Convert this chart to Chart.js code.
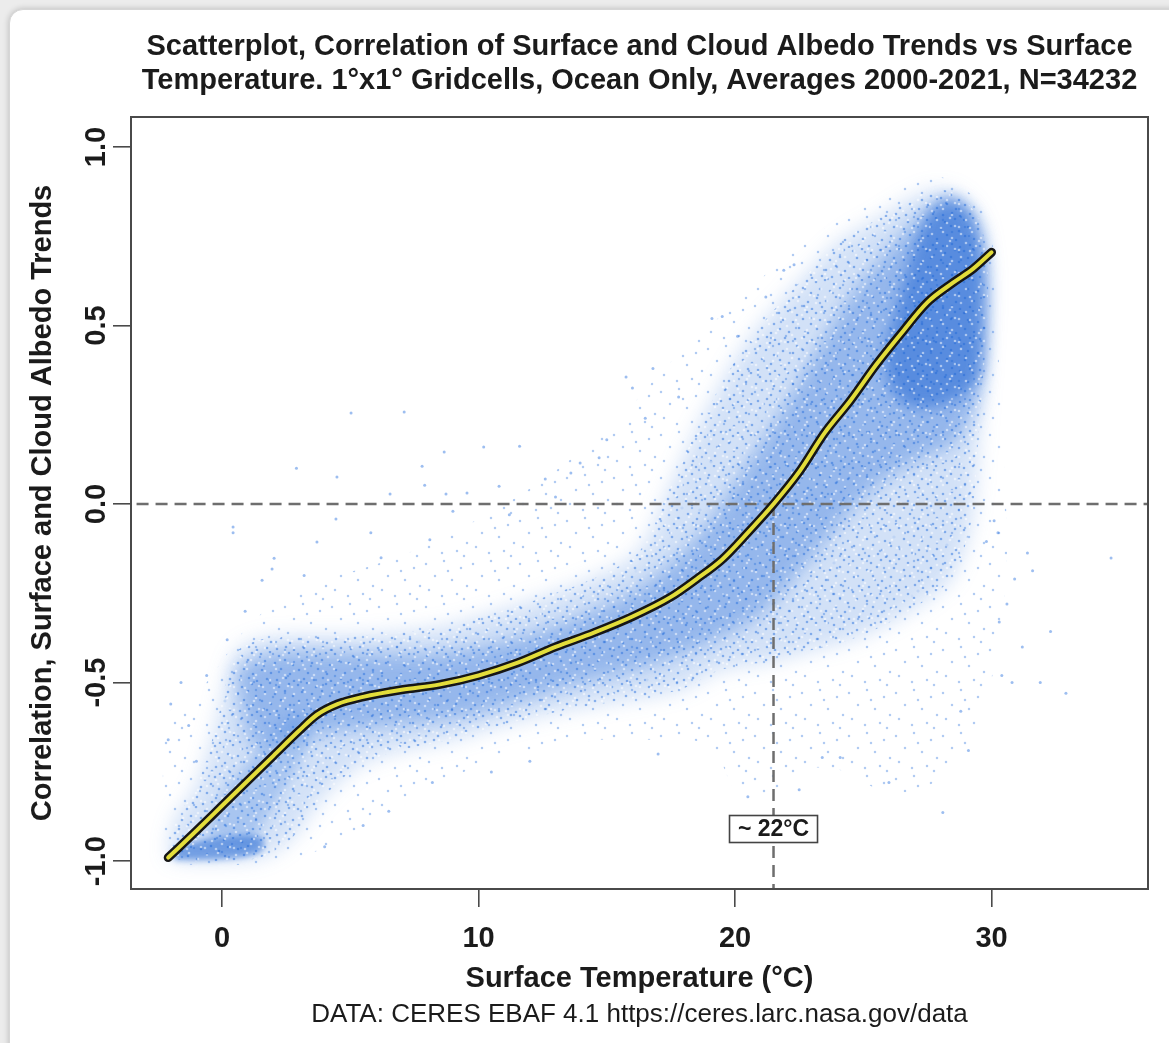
<!DOCTYPE html>
<html>
<head>
<meta charset="utf-8">
<script src="https://cdn.jsdelivr.net/npm/chart.js@4.4.1/dist/chart.umd.min.js"></script>
<style>
  html, body { margin:0; padding:0; width:1169px; height:1043px; overflow:hidden; background:#ececec; }
  #card { position:absolute; left:9px; top:9px; width:1180px; height:1060px; background:#fff;
          border:1px solid #d6d6d6; border-radius:14px; box-shadow:0 0 6px rgba(0,0,0,0.22); }
  #c { position:absolute; left:0; top:0; }
</style>
</head>
<body>
<div id="card"></div>
<canvas id="c" width="1169" height="1043"></canvas>
<script>
// ---------------- DATA ----------------
const chartTitle = ['Scatterplot, Correlation of Surface and Cloud Albedo Trends vs Surface',
                    'Temperature. 1°x1° Gridcells, Ocean Only, Averages 2000-2021, N=34232'];
const xTitle = 'Surface Temperature (°C)';
const yTitle = 'Correlation, Surface and Cloud Albedo Trends';
const caption = 'DATA: CERES EBAF 4.1 https://ceres.larc.nasa.gov/data';
const xTicks = [0, 10, 20, 30];
const yTicks = [-1, -0.5, 0, 0.5, 1];
const yTickLabels = ['-1.0', '-0.5', '0.0', '0.5', '1.0'];
const crossoverT = 21.5;
const crossoverLabel = '~ 22°C';
const crossoverLabelY = -0.91;

// smoothed fit curve
const curveX = [-2.1,-1,0,1,2,3,3.7,4.5,5.5,7,8.5,10,11.5,13,14.5,16,17.5,18.5,19.5,20.5,21.5,22.5,23.5,24.5,25.5,26.5,27.5,28.5,29.3,30];
const curveY = [-0.99,-0.915,-0.845,-0.775,-0.705,-0.635,-0.59,-0.56,-0.54,-0.52,-0.505,-0.48,-0.445,-0.40,-0.36,-0.315,-0.26,-0.21,-0.155,-0.08,0.0,0.09,0.2,0.29,0.39,0.48,0.565,0.62,0.66,0.705];

// point-cloud density regions (outlines in data units)
const cloudOuter = [[-2.22,-1.0],[-2.30,-0.72],[-2.03,-0.58],[-1.2,-0.55],[-0.3,-0.47],[0.8,-0.36],[2.0,-0.28],[3.5,-0.22],[5.5,-0.18],[7.5,-0.13],[9.5,-0.06],[11.5,0.02],[13.5,0.12],[15.5,0.24],[17.0,0.36],[18.5,0.47],[20.19,0.57],[22.14,0.71],[23.70,0.78],[25.26,0.85],[26.63,0.91],[27.80,0.92],[28.77,0.89],[29.55,0.84],[30.02,0.74],[30.14,0.57],[30.33,0.35],[30.5,0.1],[30.6,-0.15],[30.3,-0.4],[29.5,-0.6],[28.77,-0.717],[27.21,-0.80],[25.65,-0.80],[24.09,-0.745],[22.53,-0.745],[20.97,-0.83],[20.0,-0.80],[19.02,-0.675],[16.69,-0.66],[14.74,-0.66],[12.40,-0.69],[10.06,-0.73],[8.11,-0.80],[6.16,-0.87],[4.21,-0.955],[2.65,-0.997],[0.70,-1.01],[-1.25,-1.01]];
const cloudMedium = [[-2.11,-0.99],[-1.83,-0.885],[-1.05,-0.80],[-0.27,-0.633],[0.51,-0.42],[1.48,-0.38],[3.04,-0.37],[4.99,-0.37],[6.94,-0.36],[8.89,-0.34],[10.84,-0.30],[12.79,-0.255],[14.74,-0.2],[16.3,-0.13],[17.5,0.05],[18.6,0.22],[20.0,0.40],[21.0,0.50],[22.5,0.62],[24.0,0.73],[25.6,0.80],[27.0,0.86],[28.0,0.88],[28.8,0.86],[29.55,0.79],[29.86,0.63],[29.75,0.43],[29.5,0.2],[29.2,-0.05],[28.5,-0.2],[27.60,-0.26],[26.04,-0.33],[24.48,-0.38],[22.92,-0.41],[21.36,-0.44],[19.42,-0.465],[17.86,-0.52],[15.52,-0.55],[13.18,-0.58],[10.84,-0.62],[8.89,-0.66],[6.94,-0.69],[5.38,-0.73],[3.82,-0.83],[2.65,-0.94],[1.48,-0.99],[-0.08,-1.0],[-1.25,-1.0]];
const cloudCore = [[0.51,-0.465],[1.87,-0.42],[3.82,-0.415],[6.16,-0.42],[8.11,-0.42],[10.06,-0.40],[12.01,-0.365],[13.96,-0.315],[15.91,-0.25],[17.47,-0.17],[19.02,-0.05],[20.39,0.1],[21.75,0.25],[23.12,0.42],[24.48,0.58],[25.85,0.70],[27.02,0.79],[27.99,0.84],[28.97,0.83],[29.63,0.74],[29.75,0.52],[29.5,0.3],[28.5,0.17],[27.0,0.12],[25.65,0.06],[24.48,-0.02],[23.31,-0.12],[22.14,-0.22],[20.97,-0.31],[19.81,-0.36],[18.25,-0.41],[16.30,-0.46],[13.96,-0.5],[11.62,-0.55],[9.67,-0.59],[7.72,-0.61],[5.77,-0.625],[3.82,-0.645],[2.26,-0.665],[1.09,-0.68]];
const cloudDense = [[25.8,0.42],[26.4,0.58],[27.0,0.72],[27.6,0.82],[28.38,0.86],[29.16,0.82],[29.67,0.7],[29.75,0.52],[29.55,0.36],[28.77,0.3],[27.60,0.27],[26.63,0.28],[26.0,0.33]];
const cloudFoot = [[-1.95,-0.97],[-1.25,-0.95],[-0.27,-0.935],[0.70,-0.93],[1.56,-0.935],[1.56,-0.97],[0.70,-0.99],[-0.86,-0.997],[-1.83,-0.997]];
const cloudDiagonal = [[-0.66,-0.93],[0.12,-0.80],[1.09,-0.717],[2.07,-0.633],[3.04,-0.59],[3.43,-0.66],[2.65,-0.77],[1.68,-0.885],[1.09,-0.955]];

// isolated gridcells outside the main cloud
const outliers = [[5.03,0.255],[7.1,0.258],[2.9,0.1],[4.48,0.076],[8.66,0.146],[7.8,0.106],[10.2,0.16],[11.6,0.162],[7.9,0.053],[6.55,0.028],[8.73,0.028],[9.55,0.031],[0.43,-0.064],[0.43,-0.08],[4.44,-0.042],[3.7,-0.106],[2.03,-0.152],[1.95,-0.182],[1.56,-0.213],
  [15.75,0.356],[16.0,0.325],[16.8,0.38],[19.1,0.52],[19.5,0.525],[20.1,0.47],[21.2,0.58],[21.9,0.655],[22.3,0.67],[13.96,0.115],[14.7,0.13],[13.6,0.087],
  [34.66,-0.151],[31.4,-0.137],[31.6,-0.187],[30.9,-0.21],[32.3,-0.357],[31.2,-0.4],[31.9,-0.5],[32.9,-0.53],[30.4,-0.48],[30.8,-0.5],[29.1,-0.69],[28.1,-0.864],[30.1,-0.047],[30.25,-0.08],[29.8,-0.105],[30.6,-0.28],[30.3,-0.33],[28.8,-0.58],[23.4,-0.71],[24.1,-0.71],
  [-2.0,-0.56],[-1.6,-0.5],[-2.1,-0.66],[-1.3,-0.62],[-0.6,-0.48],[0.2,-0.38],[0.9,-0.3],[-1.0,-0.72],
  [8.2,-0.78],[6.5,-0.86],[5.5,-0.9],[12.0,-0.72],[17.0,-0.7],[20.5,-0.82],[22.5,-0.8],[26,-0.78],[10.5,-0.75],[4.0,-0.96],
  [5.8,-0.08],[9.0,-0.02],[10.8,0.05],[12.6,0.07],[6.2,-0.15],[3.2,-0.2],[8.1,-0.1],[11.2,-0.03],[13.0,0.02],[15.0,0.18],[16.5,0.24],[17.8,0.3]];

// ---------------- STYLE ----------------
const FONT = '"Liberation Sans", Arial, Helvetica, sans-serif';
const TEXT = '#1b1b1b';

function makePattern(w, h, dotColor, dots, r) {
  const t = document.createElement('canvas');
  t.width = w; t.height = h;
  const g = t.getContext('2d');
  g.fillStyle = dotColor;
  dots.forEach(d => { g.beginPath(); g.arc(d[0], d[1], r, 0, Math.PI * 2); g.fill(); });
  return g.createPattern(t, 'repeat');
}
// fixed dot layouts for the speckle texture
const tileSparse = [[3,5],[21,2],[38,9],[12,17],[29,21],[44,27],[6,31],[19,37],[34,35],[25,12],[41,40]];
const tileMed = [[2,3],[11,1],[20,5],[30,2],[6,10],[16,12],[26,9],[34,14],[3,19],[12,22],[22,18],[31,23],[8,28],[18,29],[27,27],[35,30]];
const tileWhite = [[4,4],[15,2],[24,8],[9,13],[19,16],[2,20],[27,19],[13,21],[22,11]];

const toPts = arr => arr.map(p => ({x: p[0], y: p[1]}));

const canvas = document.getElementById('c');
const ctx = canvas.getContext('2d');

const pOuter  = makePattern(47, 43, 'rgba(70,130,225,0.42)', tileSparse, 1.25);
const pMedium = makePattern(37, 31, 'rgba(45,115,222,0.5)', tileMed, 1.3);
const pWhite  = makePattern(29, 23, 'rgba(255,255,255,0.5)', tileWhite, 1.3);

function blob(arr, fillStyle, order, blurPx) {
  return { type: 'line', data: toPts(arr), fill: 'shape', backgroundColor: fillStyle, blur: blurPx || 0,
           borderWidth: 0, borderColor: 'rgba(0,0,0,0)', pointRadius: 0, tension: 0.3, order: order };
}

// softens the edges of the density fills (filter is set just before a dataset's fill is drawn)
const softFills = {
  id: 'softFills',
  beforeDatasetsDraw(chart) {
    const metas = chart.getSortedVisibleDatasetMetas();
    const m = metas[metas.length - 1];
    const b = chart.data.datasets[m.index].blur;
    chart.ctx.filter = b ? 'blur(' + b + 'px)' : 'none';
  },
  afterDatasetDraw(chart, args) {
    const metas = chart.getSortedVisibleDatasetMetas();
    const i = metas.indexOf(args.meta);
    const next = metas[i - 1];
    const b = next ? chart.data.datasets[next.index].blur : 0;
    chart.ctx.filter = b ? 'blur(' + b + 'px)' : 'none';
  },
  afterDatasetsDraw(chart) { chart.ctx.filter = 'none'; }
};

const frameAndText = {
  id: 'frameAndText',
  afterDraw(chart) {
    const c = chart.ctx, a = chart.chartArea;
    const sx = chart.scales.x, sy = chart.scales.y;
    c.save();
    c.filter = 'none';
    c.strokeStyle = '#4a4a4a'; c.lineWidth = 2;
    c.strokeRect(a.left, a.top, a.right - a.left, a.bottom - a.top);
    c.fillStyle = TEXT;
    c.font = 'bold 29px ' + FONT;
    c.textAlign = 'center'; c.textBaseline = 'middle';
    sy.ticks.forEach(t => {
      const py = sy.getPixelForValue(t.value);
      c.save(); c.translate(a.left - 34, py); c.rotate(-Math.PI / 2);
      c.fillText(yTickLabels[yTicks.indexOf(t.value)], 0, 0);
      c.restore();
    });
    const cx = (a.left + a.right) / 2;
    c.fillText(chartTitle[0], cx, 47);
    c.fillText(chartTitle[1], cx, 81);
    c.font = '26px ' + FONT;
    c.fillText(caption, cx, 1015);
    const lx = sx.getPixelForValue(crossoverT), ly = sy.getPixelForValue(crossoverLabelY);
    c.fillStyle = '#fff'; c.strokeStyle = '#444'; c.lineWidth = 1.6;
    c.fillRect(lx - 44, ly - 13.5, 88, 27);
    c.strokeRect(lx - 44, ly - 13.5, 88, 27);
    c.fillStyle = TEXT; c.font = 'bold 23px ' + FONT;
    c.fillText(crossoverLabel, lx, ly + 1);
    c.restore();
  }
};

new Chart(ctx, {
  type: 'scatter',
  data: {
    datasets: [
      { type: 'line', data: curveX.map((x, i) => ({x, y: curveY[i]})), borderColor: '#e3dd3b', borderWidth: 4,
        pointRadius: 0, cubicInterpolationMode: 'monotone', borderCapStyle: 'round', borderJoinStyle: 'round', fill: false, order: 0 },
      { type: 'line', data: curveX.map((x, i) => ({x, y: curveY[i]})), borderColor: '#161616', borderWidth: 9,
        pointRadius: 0, cubicInterpolationMode: 'monotone', borderCapStyle: 'round', borderJoinStyle: 'round', fill: false, order: 1 },
      { type: 'line', data: [{x: -10, y: 0}, {x: 50, y: 0}], borderColor: '#6e6e6e', borderWidth: 2.5,
        borderDash: [12, 7], pointRadius: 0, fill: false, order: 2 },
      { type: 'line', data: [{x: crossoverT, y: 0}, {x: crossoverT, y: -2}], borderColor: '#6e6e6e', borderWidth: 2.5,
        borderDash: [12, 7], pointRadius: 0, fill: false, order: 2 },
      { data: toPts(outliers), pointRadius: 1.5, backgroundColor: 'rgba(60,125,225,0.5)', borderWidth: 0, order: 3 },
      blob(cloudMedium, pWhite, 4, 0),
      blob(cloudDense, 'rgba(28,98,210,0.5)', 5, 7),
      blob(cloudFoot, 'rgba(28,98,210,0.55)', 5, 3),
      blob(cloudDiagonal, 'rgba(45,115,220,0.26)', 6, 6),
      blob(cloudCore, 'rgba(38,108,215,0.36)', 6, 9),
      blob(cloudMedium, pMedium, 7, 0),
      blob(cloudMedium, 'rgba(50,120,220,0.22)', 8, 10),
      blob(cloudOuter, pOuter, 9, 0)
    ]
  },
  options: {
    responsive: false, animation: false, devicePixelRatio: 1,
    layout: { padding: { left: 0, right: 21, top: 117, bottom: 0 } },
    plugins: { legend: { display: false }, tooltip: { enabled: false } },
    scales: {
      x: {
        type: 'linear', min: -3.55, max: 36.1,
        afterBuildTicks: s => { s.ticks = xTicks.map(v => ({value: v})); },
        afterFit: s => { s.height = 154; },
        grid: { display: true, drawOnChartArea: false, drawTicks: true, tickLength: 18, color: '#4a4a4a', lineWidth: 1.6 },
        border: { display: false },
        ticks: { font: { family: FONT, size: 29, weight: 'bold' }, color: TEXT, padding: 15, maxRotation: 0,
                 callback: v => String(v) },
        title: { display: true, text: xTitle, color: TEXT, font: { family: FONT, size: 29, weight: 'bold' },
                 padding: { top: 0, bottom: 47 } }
      },
      y: {
        type: 'linear', min: -1.078, max: 1.084,
        afterBuildTicks: s => { s.ticks = yTicks.map(v => ({value: v})); },
        afterFit: s => { s.width = 131; },
        grid: { display: true, drawOnChartArea: false, drawTicks: true, tickLength: 18, color: '#4a4a4a', lineWidth: 1.6 },
        border: { display: false },
        ticks: { display: false },
        title: { display: true, text: yTitle, color: TEXT, font: { family: FONT, size: 29, weight: 'bold' },
                 padding: { top: 26, bottom: 0 } }
      }
    }
  },
  plugins: [softFills, frameAndText]
});
</script>
</body>
</html>
